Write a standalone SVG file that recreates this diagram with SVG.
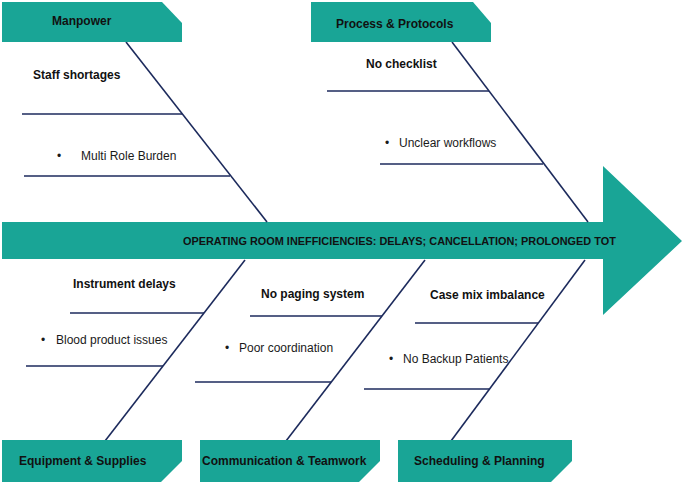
<svg xmlns="http://www.w3.org/2000/svg" width="684" height="482" viewBox="0 0 684 482">
<style>
.box{fill:#19a596;}
.bone{stroke:#1c2a5c;stroke-width:1.6;fill:none;}
.t{font-family:"Liberation Sans",Arial,sans-serif;fill:#111;}
.h{font-weight:bold;font-size:12px;}
.c{font-size:12px;fill:#1a1a1a;}
.b{font-weight:bold;font-size:12px;}
.m{font-weight:bold;font-size:10.9px;}
</style>
<rect width="684" height="482" fill="#ffffff"/>
<g id="spine">
<polygon class="box" points="2,222 603,222 603,166 682,241 603,315 603,259 2,259"/>
<text class="t m" x="183" y="245">OPERATING ROOM INEFFICIENCIES: DELAYS; CANCELLATION; PROLONGED TOT</text>
</g>
<g id="connectors">
<line class="bone" x1="126" y1="42" x2="267" y2="222"/>
<line class="bone" x1="22" y1="114" x2="182" y2="114"/>
<line class="bone" x1="24" y1="176" x2="230" y2="176"/>
<line class="bone" x1="452" y1="42" x2="588" y2="222"/>
<line class="bone" x1="327" y1="91" x2="489" y2="91"/>
<line class="bone" x1="380" y1="164" x2="543" y2="164"/>
<line class="bone" x1="245" y1="260" x2="105" y2="441"/>
<line class="bone" x1="70" y1="313" x2="204" y2="313"/>
<line class="bone" x1="26" y1="366" x2="163" y2="366"/>
<line class="bone" x1="425" y1="260" x2="286" y2="441"/>
<line class="bone" x1="250" y1="316" x2="382" y2="316"/>
<line class="bone" x1="195" y1="382" x2="331" y2="382"/>
<line class="bone" x1="585" y1="260" x2="451" y2="441"/>
<line class="bone" x1="415" y1="323" x2="538" y2="323"/>
<line class="bone" x1="364" y1="389" x2="489" y2="389"/>
</g>
<g id="manpower">
<polygon class="box" points="2,2 162,2 182,23 182,42 2,42"/>
<text class="t h" x="52" y="25">Manpower</text>
<text class="t b" x="33" y="79">Staff shortages</text>
<text class="t c" x="57" y="160">•</text>
<text class="t c" x="81" y="160">Multi Role Burden</text>
</g>
<g id="process">
<polygon class="box" points="311,2 473,2 491,23 491,42 311,42"/>
<text class="t h" x="336" y="28">Process &amp; Protocols</text>
<text class="t b" x="366" y="68">No checklist</text>
<text class="t c" x="385" y="147">•</text>
<text class="t c" x="399" y="147">Unclear workflows</text>
</g>
<g id="equipment">
<polygon class="box" points="2,440 182,440 182,461 161,482 2,482"/>
<text class="t h" x="19" y="465">Equipment &amp; Supplies</text>
<text class="t b" x="73" y="288">Instrument delays</text>
<text class="t c" x="41" y="344">•</text>
<text class="t c" x="56" y="344">Blood product issues</text>
</g>
<g id="communication">
<polygon class="box" points="200,440 380,440 380,461 359,482 200,482"/>
<text class="t h" x="202" y="465">Communication &amp; Teamwork</text>
<text class="t b" x="261" y="298">No paging system</text>
<text class="t c" x="225" y="352">•</text>
<text class="t c" x="239" y="352">Poor coordination</text>
</g>
<g id="scheduling">
<polygon class="box" points="398,440 572,440 572,461 551,482 398,482"/>
<text class="t h" x="414" y="465">Scheduling &amp; Planning</text>
<text class="t b" x="430" y="299">Case mix imbalance</text>
<text class="t c" x="389" y="363">•</text>
<text class="t c" x="403" y="363">No Backup Patients</text>
</g>
</svg>
